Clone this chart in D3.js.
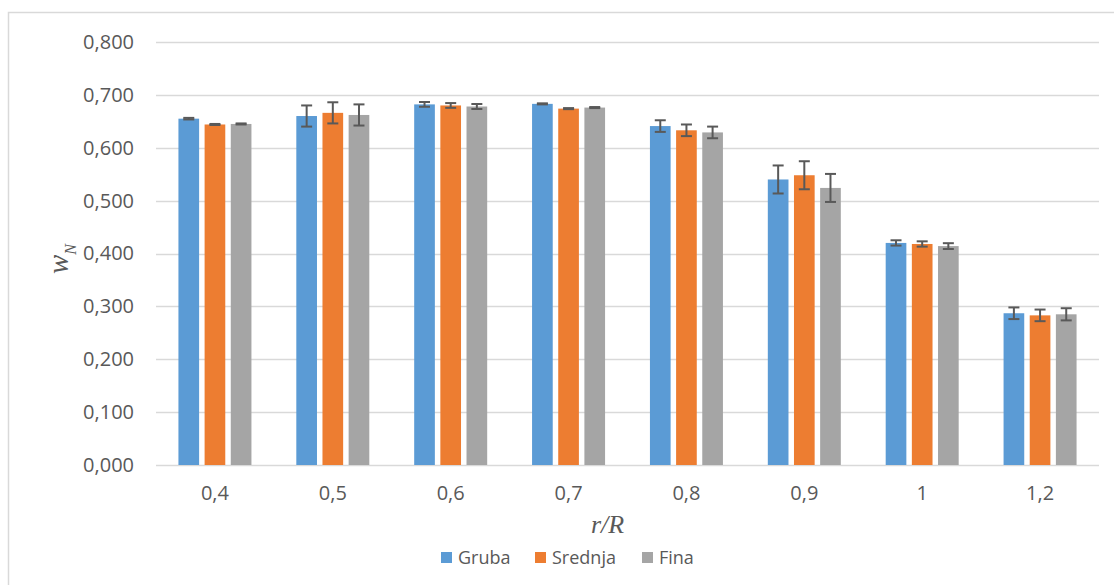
<!DOCTYPE html>
<html>
<head>
<meta charset="utf-8">
<script src="https://cdn.jsdelivr.net/npm/d3@7"></script>
<style>
  html, body { margin: 0; padding: 0; background: #fff; }
  svg { display: block; }
</style>
</head>
<body>
<svg id="chart" width="1114" height="585"></svg>
<script>
const categories = ["0,4", "0,5", "0,6", "0,7", "0,8", "0,9", "1", "1,2"];
const seriesNames = ["Gruba", "Srednja", "Fina"];
const seriesColors = ["#5b9bd5", "#ed7d31", "#a5a5a5"];
const gruba   = [0.655, 0.660, 0.682, 0.683, 0.641, 0.540, 0.420, 0.287];
const srednja = [0.644, 0.666, 0.680, 0.674, 0.633, 0.548, 0.418, 0.283];
const fina    = [0.645, 0.662, 0.678, 0.676, 0.629, 0.524, 0.414, 0.285];
const grubaErr   = [0.0015, 0.020, 0.0045, 0.001, 0.011, 0.0265, 0.005, 0.011];
const srednjaErr = [0.001, 0.020, 0.0045, 0.001, 0.011, 0.0265, 0.005, 0.011];
const finaErr    = [0.001, 0.020, 0.0047, 0.001, 0.011, 0.0265, 0.0055, 0.0115];
const yTicks = [0, 0.1, 0.2, 0.3, 0.4, 0.5, 0.6, 0.7, 0.8];

const values = [gruba, srednja, fina];
const errors = [grubaErr, srednjaErr, finaErr];

const svg = d3.select("#chart");
const font = "'Open Sans', 'Liberation Sans', sans-serif";
const textColor = "#595959";

// outer chart border
svg.append("rect")
  .attr("x", 8.5).attr("y", 12.5)
  .attr("width", 1200).attr("height", 700)
  .attr("fill", "#fff")
  .attr("stroke", "#d9d9d9").attr("stroke-width", 1.5);

const plotLeft = 156, plotRight = 1099, plotTop = 42, plotBottom = 465;

const x0 = d3.scaleBand().domain(categories).range([plotLeft, plotRight]).padding(0);
const x1 = d3.scaleBand().domain(seriesNames)
  .range([x0.bandwidth() / 2 - 36.5, x0.bandwidth() / 2 + 36.5])
  .paddingInner(0.21).paddingOuter(0);
const y = d3.scaleLinear().domain([0, 0.8]).range([plotBottom, plotTop]);

const fmt = v => d3.format(".3f")(v).replace(".", ",");

// gridlines
svg.append("g").selectAll("line").data(yTicks).join("line")
  .attr("x1", plotLeft).attr("x2", plotRight)
  .attr("y1", d => Math.round(y(d)) + 0.5).attr("y2", d => Math.round(y(d)) + 0.5)
  .attr("stroke", "#d9d9d9").attr("stroke-width", 1.5);

// y axis labels
const yAxis = d3.axisLeft(y).tickValues(yTicks).tickFormat(fmt).tickSize(0).tickPadding(22);
const yg = svg.append("g").attr("transform", `translate(${plotLeft},0)`).call(yAxis);
yg.select(".domain").remove();
yg.selectAll("text").attr("font-family", font).attr("font-size", 20).attr("fill", textColor);

// x axis labels
const xAxis = d3.axisBottom(x0).tickSize(0).tickPadding(21);
const xg = svg.append("g").attr("transform", `translate(0,${plotBottom})`).call(xAxis);
xg.select(".domain").remove();
xg.selectAll("text").attr("font-family", font).attr("font-size", 20).attr("fill", textColor);

// bars
const groups = svg.append("g").selectAll("g").data(categories).join("g")
  .attr("transform", d => `translate(${x0(d)},0)`);

seriesNames.forEach((s, si) => {
  groups.append("rect")
    .attr("x", x1(s))
    .attr("width", x1.bandwidth())
    .attr("y", (d, i) => y(values[si][i]))
    .attr("height", (d, i) => y(0) - y(values[si][i]))
    .attr("fill", seriesColors[si]);
});

// error bars
const capW = 11;
seriesNames.forEach((s, si) => {
  const cx = x1(s) + x1.bandwidth() / 2;
  groups.each(function(d, i) {
    const g = d3.select(this);
    const v = values[si][i], e = errors[si][i];
    const yt = y(v + e), yb = y(v - e);
    g.append("line").attr("x1", cx).attr("x2", cx).attr("y1", yt).attr("y2", yb)
      .attr("stroke", "#595959").attr("stroke-width", 2);
    g.append("line").attr("x1", cx - capW / 2).attr("x2", cx + capW / 2).attr("y1", yt).attr("y2", yt)
      .attr("stroke", "#595959").attr("stroke-width", 2);
    g.append("line").attr("x1", cx - capW / 2).attr("x2", cx + capW / 2).attr("y1", yb).attr("y2", yb)
      .attr("stroke", "#595959").attr("stroke-width", 2);
  });
});

// axis titles
svg.append("text")
  .attr("x", (plotLeft + plotRight) / 2 - 20).attr("y", 533)
  .attr("text-anchor", "middle")
  .attr("font-family", "'Liberation Serif', 'Times New Roman', serif")
  .attr("font-style", "italic").attr("font-size", 26).attr("fill", textColor)
  .text("r/R");

const yTitle = svg.append("text")
  .attr("transform", "translate(68,259) rotate(-90)")
  .attr("text-anchor", "middle")
  .attr("font-family", "'Liberation Serif', 'Times New Roman', serif")
  .attr("font-style", "italic").attr("font-size", 29).attr("fill", textColor);
yTitle.append("tspan").text("w");
yTitle.append("tspan").attr("font-size", 16).attr("dy", 8).text("N");

// legend
const legendItems = [
  { name: seriesNames[0], color: seriesColors[0], x: 441 },
  { name: seriesNames[1], color: seriesColors[1], x: 535 },
  { name: seriesNames[2], color: seriesColors[2], x: 642 }
];
const lg = svg.append("g").selectAll("g").data(legendItems).join("g")
  .attr("transform", d => `translate(${d.x},552)`);
lg.append("rect").attr("width", 11).attr("height", 11).attr("fill", d => d.color);
lg.append("text").attr("x", 17).attr("y", 12)
  .attr("font-family", font).attr("font-size", 18).attr("fill", textColor)
  .text(d => d.name);
</script>
</body>
</html>
